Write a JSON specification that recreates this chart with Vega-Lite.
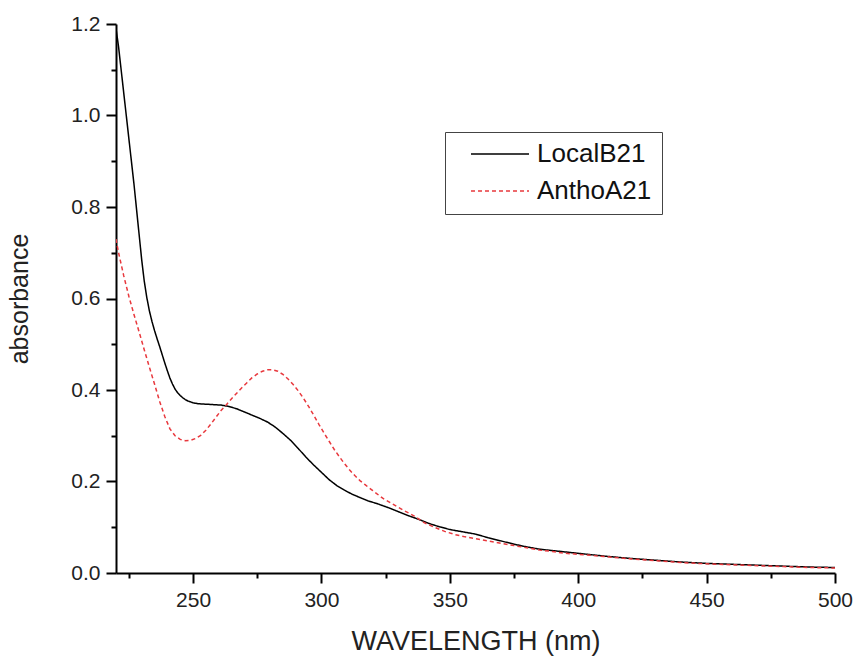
{
  "$schema": "https://vega.github.io/schema/vega-lite/v6.json",
  "width": 719,
  "height": 549,
  "autosize": {"type": "none"},
  "padding": {"left": 116, "top": 24, "right": 20, "bottom": 83},
  "background": "white",
  "config": {
    "view": {"stroke": null},
    "font": "Liberation Sans",
    "axis": {"grid": false, "domainColor": "#000", "domainWidth": 2, "tickColor": "#000", "tickWidth": 2, "labelColor": "#222", "titleColor": "#222", "labelFont": "Liberation Sans", "titleFont": "Liberation Sans", "titleFontWeight": "normal"}
  },
  "datasets": {
    "spectra": [
      {"series": "LocalB21", "wl": 220, "abs": 1.19},
      {"series": "LocalB21", "wl": 221, "abs": 1.15},
      {"series": "LocalB21", "wl": 222, "abs": 1.10},
      {"series": "LocalB21", "wl": 223, "abs": 1.05},
      {"series": "LocalB21", "wl": 224, "abs": 1.00},
      {"series": "LocalB21", "wl": 225, "abs": 0.95},
      {"series": "LocalB21", "wl": 226, "abs": 0.90},
      {"series": "LocalB21", "wl": 227, "abs": 0.85},
      {"series": "LocalB21", "wl": 228, "abs": 0.795},
      {"series": "LocalB21", "wl": 229, "abs": 0.74},
      {"series": "LocalB21", "wl": 230, "abs": 0.685},
      {"series": "LocalB21", "wl": 231, "abs": 0.638},
      {"series": "LocalB21", "wl": 232, "abs": 0.602},
      {"series": "LocalB21", "wl": 233, "abs": 0.573},
      {"series": "LocalB21", "wl": 234, "abs": 0.55},
      {"series": "LocalB21", "wl": 235, "abs": 0.53},
      {"series": "LocalB21", "wl": 236, "abs": 0.512},
      {"series": "LocalB21", "wl": 237, "abs": 0.495},
      {"series": "LocalB21", "wl": 238, "abs": 0.477},
      {"series": "LocalB21", "wl": 239, "abs": 0.459},
      {"series": "LocalB21", "wl": 240, "abs": 0.442},
      {"series": "LocalB21", "wl": 241, "abs": 0.426},
      {"series": "LocalB21", "wl": 242, "abs": 0.413},
      {"series": "LocalB21", "wl": 243, "abs": 0.402},
      {"series": "LocalB21", "wl": 244, "abs": 0.394},
      {"series": "LocalB21", "wl": 245, "abs": 0.388},
      {"series": "LocalB21", "wl": 246, "abs": 0.383},
      {"series": "LocalB21", "wl": 247, "abs": 0.379},
      {"series": "LocalB21", "wl": 248, "abs": 0.376},
      {"series": "LocalB21", "wl": 250, "abs": 0.372},
      {"series": "LocalB21", "wl": 252, "abs": 0.370},
      {"series": "LocalB21", "wl": 255, "abs": 0.369},
      {"series": "LocalB21", "wl": 258, "abs": 0.368},
      {"series": "LocalB21", "wl": 261, "abs": 0.367},
      {"series": "LocalB21", "wl": 264, "abs": 0.364},
      {"series": "LocalB21", "wl": 267, "abs": 0.359},
      {"series": "LocalB21", "wl": 270, "abs": 0.352},
      {"series": "LocalB21", "wl": 273, "abs": 0.345},
      {"series": "LocalB21", "wl": 276, "abs": 0.338},
      {"series": "LocalB21", "wl": 279, "abs": 0.330},
      {"series": "LocalB21", "wl": 282, "abs": 0.319},
      {"series": "LocalB21", "wl": 285, "abs": 0.305},
      {"series": "LocalB21", "wl": 288, "abs": 0.290},
      {"series": "LocalB21", "wl": 291, "abs": 0.272},
      {"series": "LocalB21", "wl": 294, "abs": 0.253},
      {"series": "LocalB21", "wl": 297, "abs": 0.236},
      {"series": "LocalB21", "wl": 300, "abs": 0.220},
      {"series": "LocalB21", "wl": 303, "abs": 0.204},
      {"series": "LocalB21", "wl": 306, "abs": 0.191},
      {"series": "LocalB21", "wl": 309, "abs": 0.181},
      {"series": "LocalB21", "wl": 312, "abs": 0.172},
      {"series": "LocalB21", "wl": 315, "abs": 0.165},
      {"series": "LocalB21", "wl": 318, "abs": 0.158},
      {"series": "LocalB21", "wl": 322, "abs": 0.151},
      {"series": "LocalB21", "wl": 326, "abs": 0.143},
      {"series": "LocalB21", "wl": 330, "abs": 0.134},
      {"series": "LocalB21", "wl": 334, "abs": 0.125},
      {"series": "LocalB21", "wl": 338, "abs": 0.117},
      {"series": "LocalB21", "wl": 342, "abs": 0.108},
      {"series": "LocalB21", "wl": 346, "abs": 0.101},
      {"series": "LocalB21", "wl": 350, "abs": 0.095},
      {"series": "LocalB21", "wl": 355, "abs": 0.090},
      {"series": "LocalB21", "wl": 360, "abs": 0.085},
      {"series": "LocalB21", "wl": 365, "abs": 0.077},
      {"series": "LocalB21", "wl": 370, "abs": 0.070},
      {"series": "LocalB21", "wl": 375, "abs": 0.063},
      {"series": "LocalB21", "wl": 380, "abs": 0.057},
      {"series": "LocalB21", "wl": 385, "abs": 0.052},
      {"series": "LocalB21", "wl": 390, "abs": 0.049},
      {"series": "LocalB21", "wl": 395, "abs": 0.046},
      {"series": "LocalB21", "wl": 400, "abs": 0.043},
      {"series": "LocalB21", "wl": 410, "abs": 0.037},
      {"series": "LocalB21", "wl": 420, "abs": 0.032},
      {"series": "LocalB21", "wl": 430, "abs": 0.028},
      {"series": "LocalB21", "wl": 440, "abs": 0.024},
      {"series": "LocalB21", "wl": 450, "abs": 0.021},
      {"series": "LocalB21", "wl": 460, "abs": 0.019},
      {"series": "LocalB21", "wl": 470, "abs": 0.017},
      {"series": "LocalB21", "wl": 480, "abs": 0.015},
      {"series": "LocalB21", "wl": 490, "abs": 0.013},
      {"series": "LocalB21", "wl": 500, "abs": 0.012},
      {"series": "AnthoA21", "wl": 220, "abs": 0.73},
      {"series": "AnthoA21", "wl": 221, "abs": 0.70},
      {"series": "AnthoA21", "wl": 223, "abs": 0.65},
      {"series": "AnthoA21", "wl": 225, "abs": 0.605},
      {"series": "AnthoA21", "wl": 227, "abs": 0.565},
      {"series": "AnthoA21", "wl": 229, "abs": 0.527},
      {"series": "AnthoA21", "wl": 231, "abs": 0.488},
      {"series": "AnthoA21", "wl": 233, "abs": 0.45},
      {"series": "AnthoA21", "wl": 235, "abs": 0.413},
      {"series": "AnthoA21", "wl": 237, "abs": 0.375},
      {"series": "AnthoA21", "wl": 239, "abs": 0.342},
      {"series": "AnthoA21", "wl": 241, "abs": 0.315},
      {"series": "AnthoA21", "wl": 243, "abs": 0.300},
      {"series": "AnthoA21", "wl": 245, "abs": 0.292},
      {"series": "AnthoA21", "wl": 247, "abs": 0.289},
      {"series": "AnthoA21", "wl": 249, "abs": 0.290},
      {"series": "AnthoA21", "wl": 251, "abs": 0.294},
      {"series": "AnthoA21", "wl": 253, "abs": 0.301},
      {"series": "AnthoA21", "wl": 255, "abs": 0.312},
      {"series": "AnthoA21", "wl": 257, "abs": 0.326},
      {"series": "AnthoA21", "wl": 259, "abs": 0.341},
      {"series": "AnthoA21", "wl": 261, "abs": 0.356},
      {"series": "AnthoA21", "wl": 263, "abs": 0.368},
      {"series": "AnthoA21", "wl": 265, "abs": 0.381},
      {"series": "AnthoA21", "wl": 267, "abs": 0.393},
      {"series": "AnthoA21", "wl": 269, "abs": 0.405},
      {"series": "AnthoA21", "wl": 271, "abs": 0.416},
      {"series": "AnthoA21", "wl": 273, "abs": 0.427},
      {"series": "AnthoA21", "wl": 275, "abs": 0.435},
      {"series": "AnthoA21", "wl": 277, "abs": 0.441},
      {"series": "AnthoA21", "wl": 279, "abs": 0.444},
      {"series": "AnthoA21", "wl": 281, "abs": 0.444},
      {"series": "AnthoA21", "wl": 283, "abs": 0.441},
      {"series": "AnthoA21", "wl": 285, "abs": 0.434},
      {"series": "AnthoA21", "wl": 287, "abs": 0.424},
      {"series": "AnthoA21", "wl": 289, "abs": 0.412},
      {"series": "AnthoA21", "wl": 291, "abs": 0.398},
      {"series": "AnthoA21", "wl": 293, "abs": 0.382},
      {"series": "AnthoA21", "wl": 295, "abs": 0.364},
      {"series": "AnthoA21", "wl": 297, "abs": 0.345},
      {"series": "AnthoA21", "wl": 299, "abs": 0.325},
      {"series": "AnthoA21", "wl": 301, "abs": 0.306},
      {"series": "AnthoA21", "wl": 303, "abs": 0.288},
      {"series": "AnthoA21", "wl": 305, "abs": 0.270},
      {"series": "AnthoA21", "wl": 307, "abs": 0.254},
      {"series": "AnthoA21", "wl": 309, "abs": 0.239},
      {"series": "AnthoA21", "wl": 311, "abs": 0.225},
      {"series": "AnthoA21", "wl": 313, "abs": 0.213},
      {"series": "AnthoA21", "wl": 315, "abs": 0.202},
      {"series": "AnthoA21", "wl": 317, "abs": 0.193},
      {"series": "AnthoA21", "wl": 320, "abs": 0.180},
      {"series": "AnthoA21", "wl": 324, "abs": 0.163},
      {"series": "AnthoA21", "wl": 328, "abs": 0.150},
      {"series": "AnthoA21", "wl": 332, "abs": 0.137},
      {"series": "AnthoA21", "wl": 336, "abs": 0.125},
      {"series": "AnthoA21", "wl": 340, "abs": 0.110},
      {"series": "AnthoA21", "wl": 344, "abs": 0.100},
      {"series": "AnthoA21", "wl": 348, "abs": 0.091},
      {"series": "AnthoA21", "wl": 352, "abs": 0.084},
      {"series": "AnthoA21", "wl": 356, "abs": 0.079},
      {"series": "AnthoA21", "wl": 360, "abs": 0.075},
      {"series": "AnthoA21", "wl": 365, "abs": 0.070},
      {"series": "AnthoA21", "wl": 370, "abs": 0.065},
      {"series": "AnthoA21", "wl": 375, "abs": 0.060},
      {"series": "AnthoA21", "wl": 380, "abs": 0.055},
      {"series": "AnthoA21", "wl": 385, "abs": 0.050},
      {"series": "AnthoA21", "wl": 390, "abs": 0.047},
      {"series": "AnthoA21", "wl": 395, "abs": 0.043},
      {"series": "AnthoA21", "wl": 400, "abs": 0.041},
      {"series": "AnthoA21", "wl": 410, "abs": 0.036},
      {"series": "AnthoA21", "wl": 420, "abs": 0.031},
      {"series": "AnthoA21", "wl": 430, "abs": 0.027},
      {"series": "AnthoA21", "wl": 440, "abs": 0.023},
      {"series": "AnthoA21", "wl": 450, "abs": 0.020},
      {"series": "AnthoA21", "wl": 460, "abs": 0.018},
      {"series": "AnthoA21", "wl": 470, "abs": 0.016},
      {"series": "AnthoA21", "wl": 480, "abs": 0.014},
      {"series": "AnthoA21", "wl": 490, "abs": 0.012},
      {"series": "AnthoA21", "wl": 500, "abs": 0.011}
    ]
  },
  "data": {"name": "spectra"},
  "mark": {"type": "line", "strokeWidth": 1.5, "clip": true},
  "encoding": {
    "x": {
      "field": "wl", "type": "quantitative",
      "scale": {"domain": [220, 500], "nice": false, "zero": false},
      "axis": {
        "title": "WAVELENGTH (nm)",
        "values": [225, 250, 275, 300, 325, 350, 375, 400, 425, 450, 475, 500],
        "labelExpr": "datum.value % 50 === 0 ? format(datum.value, 'd') : ''",
        "tickSize": {"condition": {"test": "datum.value % 50 === 0", "value": 10}, "value": 5},
        "labelFontSize": 21, "labelPadding": 6, "titleFontSize": 27, "titlePadding": 18,
        "labelFlush": false
      }
    },
    "y": {
      "field": "abs", "type": "quantitative",
      "scale": {"domain": [0, 1.2], "nice": false},
      "axis": {
        "title": "absorbance",
        "values": [0, 0.1, 0.2, 0.3, 0.4, 0.5, 0.6, 0.7, 0.8, 0.9, 1.0, 1.1, 1.2],
        "labelExpr": "round(datum.value * 10) % 2 === 0 ? format(datum.value, '.1f') : ''",
        "tickSize": {"condition": {"test": "round(datum.value * 10) % 2 === 0", "value": 10}, "value": 5},
        "labelFontSize": 21, "labelPadding": 6, "titleFontSize": 25, "titlePadding": 38,
        "labelFlush": false
      }
    },
    "color": {
      "field": "series", "type": "nominal",
      "scale": {"domain": ["LocalB21", "AnthoA21"], "range": ["#000000", "#e8383d"]},
      "legend": {
        "title": null, "orient": "none", "legendX": 329, "legendY": 108,
        "direction": "vertical",
        "symbolType": "stroke", "symbolSize": 3364, "symbolStrokeWidth": 1.5,
        "symbolOffset": 15, "labelOffset": 7, "clipHeight": 24,
        "labelFontSize": 26, "labelColor": "#111", "labelFont": "Liberation Sans",
        "padding": 10, "rowPadding": 11,
        "strokeColor": "#444", "fillColor": "white"
      }
    },
    "strokeDash": {
      "field": "series", "type": "nominal",
      "scale": {"domain": ["LocalB21", "AnthoA21"], "range": [[1, 0], [4, 3]]},
      "legend": {
        "title": null, "orient": "none", "legendX": 329, "legendY": 108,
        "direction": "vertical",
        "symbolType": "stroke", "symbolSize": 3364, "symbolStrokeWidth": 1.5,
        "symbolOffset": 15, "labelOffset": 7, "clipHeight": 24,
        "labelFontSize": 26, "labelColor": "#111", "labelFont": "Liberation Sans",
        "padding": 10, "rowPadding": 11,
        "strokeColor": "#444", "fillColor": "white"
      }
    }
  }
}
